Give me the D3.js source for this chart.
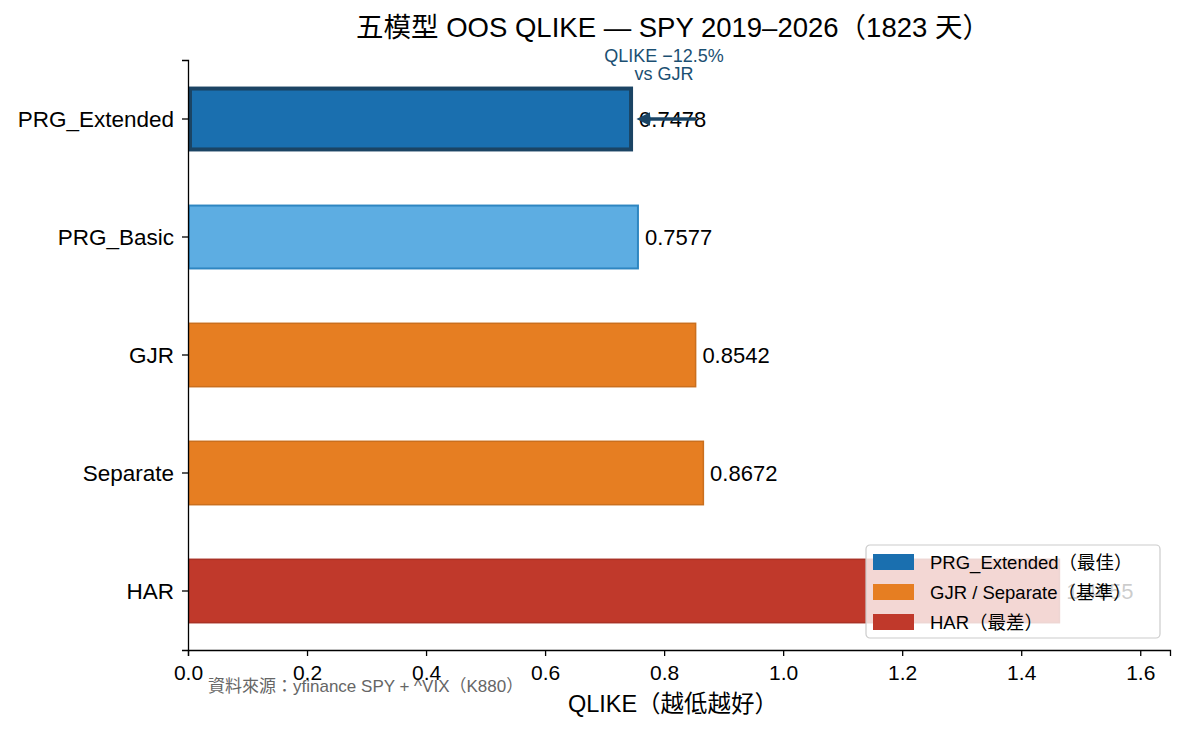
<!DOCTYPE html>
<html><head><meta charset="utf-8">
<script src="https://cdn.jsdelivr.net/npm/d3@7"></script>
<style>
body{margin:0;background:#fff;}
text{font-family:"Liberation Sans","Noto Sans CJK TC",sans-serif;}
</style></head>
<body><svg id="c" width="1185" height="731"></svg>
<script>
const models = ["PRG_Extended","PRG_Basic","GJR","Separate","HAR"];
const qlike = [0.7478,0.7577,0.8542,0.8672,1.4655];
const labels = ["0.7478","0.7577","0.8542","0.8672","1.4655"];
const fills = ["#1a6faf","#5dade2","#e67e22","#e67e22","#c0392b"];
const edges = ["#1b4464","#2e86c1","#ca6f1e","#ca6f1e","#a93226"];
const edgeW = [4,2,1.5,1.5,1.5];
const xTicks = [0,0.2,0.4,0.6,0.8,1.0,1.2,1.4,1.6];
const legendLabels = ["PRG_Extended（最佳）","GJR / Separate（基準）","HAR（最差）"];
const legendColors = ["#1a6faf","#e67e22","#c0392b"];
const title = "五模型 OOS QLIKE — SPY 2019–2026（1823 天）";
const xLabel = "QLIKE（越低越好）";
const source = "資料來源：yfinance SPY + ^VIX（K880）";
const annText = ["QLIKE −12.5%","vs GJR"];

const svg = d3.select("#c");
const L=188, R=1170, T=60, B=650;
const x = d3.scaleLinear().domain([0,1.65]).range([L,R]);
const y = d3.scaleBand().domain(models).range([T,B]).paddingInner(0.45).paddingOuter(0.225);

// bars
svg.append("g").selectAll("rect").data(models).join("rect")
  .attr("x",(d,i)=>x(0)+edgeW[i]/2)
  .attr("y",(d,i)=>y(d)+edgeW[i]/2)
  .attr("width",(d,i)=>x(qlike[i])-x(0)-edgeW[i])
  .attr("height",(d,i)=>y.bandwidth()-edgeW[i])
  .attr("fill",(d,i)=>fills[i])
  .attr("stroke",(d,i)=>edges[i])
  .attr("stroke-width",(d,i)=>edgeW[i]);

// value labels
svg.append("g").selectAll("text").data(models).join("text")
  .attr("x",(d,i)=>x(qlike[i])+6)
  .attr("y",d=>y(d)+y.bandwidth()/2)
  .attr("dy","0.36em")
  .attr("font-size",22)
  .attr("fill","#000")
  .text((d,i)=>labels[i]);

// annotation arrow
const ay = y(models[0])+y.bandwidth()/2;
svg.append("defs").append("marker").attr("id","ah").attr("viewBox","0 0 10 10")
  .attr("refX",1).attr("refY",5).attr("markerWidth",4).attr("markerHeight",4).attr("orient","auto")
  .append("path").attr("d","M0,0 L10,5 L0,10 z").attr("fill","#1b4464");
svg.append("line").attr("x1",x(qlike[2])).attr("x2",x(qlike[0])+16).attr("y1",ay).attr("y2",ay)
  .attr("stroke","#1b4464").attr("stroke-width",3.5).attr("marker-end","url(#ah)");
svg.append("g").selectAll("text").data(annText).join("text")
  .attr("x",664).attr("y",(d,i)=>62+i*18).attr("text-anchor","middle")
  .attr("font-size",18).attr("fill","#1b4f72").text(d=>d);

// axes
const xa = svg.append("g").attr("transform",`translate(0,${B})`)
  .call(d3.axisBottom(x).tickValues(xTicks).tickFormat(d3.format(".1f")).tickSizeOuter(0).tickSize(6));
xa.select(".domain").attr("stroke","#000").attr("stroke-width",1.3);
xa.selectAll(".tick line").attr("stroke","#000").attr("stroke-width",1.3);
xa.selectAll(".tick text").attr("font-size",21).attr("fill","#000").attr("y",0).attr("dy",0)
  .attr("transform","translate(0,30)");
const ya = svg.append("g").attr("transform",`translate(${L},0)`)
  .call(d3.axisLeft(y).tickSizeOuter(0).tickSize(6));
ya.select(".domain").attr("stroke","#000").attr("stroke-width",1.3);
ya.selectAll(".tick line").attr("stroke","#000").attr("stroke-width",1.3);
ya.selectAll(".tick text").attr("font-size",22.5).attr("fill","#000").attr("x",-14).attr("dy","0.36em");

// title, labels
svg.append("text").attr("x",673).attr("y",37).attr("text-anchor","middle").attr("font-size",27.5).attr("fill","#000").text(title);
svg.append("text").attr("x",673).attr("y",712).attr("text-anchor","middle").attr("font-size",23.5).attr("fill","#000").text(xLabel);
svg.append("text").attr("x",208).attr("y",692).attr("font-size",17).attr("fill","#666").text(source);

// legend
const lg = svg.append("g").attr("transform","translate(866,545)");
lg.append("rect").attr("width",294).attr("height",93).attr("rx",4)
  .attr("fill","rgba(255,255,255,0.8)").attr("stroke","#ccc").attr("stroke-width",1.2);
legendLabels.forEach((t,i)=>{
  lg.append("rect").attr("x",7).attr("y",9+i*30).attr("width",41).attr("height",16).attr("fill",legendColors[i]);
  lg.append("text").attr("x",64).attr("y",24+i*30).attr("font-size",18.5).attr("fill","#000").text(t);
});
</script></body></html>
